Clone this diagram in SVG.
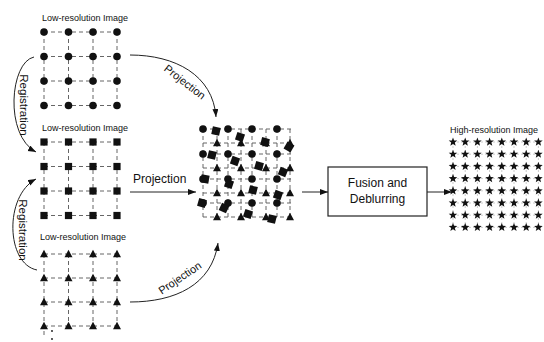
<svg xmlns="http://www.w3.org/2000/svg" xmlns:xlink="http://www.w3.org/1999/xlink" width="544" height="342" viewBox="0 0 544 342">
<style>
text{font-family:"Liberation Sans",Arial,sans-serif;fill:#111}
.lbl{font-size:9px}
.big{font-size:12px}
.dash{stroke:#555;stroke-width:0.9;stroke-dasharray:4 3;fill:none}
.hrg{stroke:#aaa;stroke-width:0.6;stroke-dasharray:2 2;fill:none}
.con{stroke:#222;stroke-width:1;fill:none}
.box{fill:#fff;stroke:#222;stroke-width:1.2}
.k{fill:#111}
</style>
<defs>
<marker id="ah" markerWidth="9" markerHeight="7" refX="8" refY="3" orient="auto" markerUnits="userSpaceOnUse">
<path d="M0,0 L8,3 L0,6 z" fill="#111"/>
</marker>
<circle id="ci" r="3.8" class="k"/>
<rect id="sq" x="-3.6" y="-3.6" width="7.2" height="7.2" class="k"/>
<rect id="bs" x="-4" y="-4" width="8" height="8" class="k"/>
<polygon id="tr" points="0,-4.2 4,3.3 -4,3.3" class="k"/>
<polygon id="st" points="0,-4.5 1.12,-1.54 4.28,-1.39 1.81,0.59 2.65,3.64 0,1.9 -2.65,3.64 -1.81,0.59 -4.28,-1.39 -1.12,-1.54" class="k"/>
</defs>
<rect width="544" height="342" fill="#fff"/>

<g id="lr1">
<text class="lbl" x="42" y="21">Low-resolution Image</text>
<path class="dash" d="M44,32H117M44,56.5H117M44,81H117M44,105.5H117M44,32V105.5M68.5,32V105.5M93,32V105.5M117,32V105.5"/>
<use xlink:href="#ci" x="44" y="32"/><use xlink:href="#ci" x="68.5" y="32"/><use xlink:href="#ci" x="93" y="32"/><use xlink:href="#ci" x="117" y="32"/>
<use xlink:href="#ci" x="44" y="56.5"/><use xlink:href="#ci" x="68.5" y="56.5"/><use xlink:href="#ci" x="93" y="56.5"/><use xlink:href="#ci" x="117" y="56.5"/>
<use xlink:href="#ci" x="44" y="81"/><use xlink:href="#ci" x="68.5" y="81"/><use xlink:href="#ci" x="93" y="81"/><use xlink:href="#ci" x="117" y="81"/>
<use xlink:href="#ci" x="44" y="105.5"/><use xlink:href="#ci" x="68.5" y="105.5"/><use xlink:href="#ci" x="93" y="105.5"/><use xlink:href="#ci" x="117" y="105.5"/>
</g>

<g id="lr2">
<text class="lbl" x="42" y="131">Low-resolution Image</text>
<path class="dash" d="M44,142H117M44,166.5H117M44,191H117M44,215.5H117M44,142V215.5M68.5,142V215.5M93,142V215.5M117,142V215.5"/>
<use xlink:href="#sq" x="44" y="142"/><use xlink:href="#sq" x="68.5" y="142"/><use xlink:href="#sq" x="93" y="142"/><use xlink:href="#sq" x="117" y="142"/>
<use xlink:href="#sq" x="44" y="166.5"/><use xlink:href="#sq" x="68.5" y="166.5"/><use xlink:href="#sq" x="93" y="166.5"/><use xlink:href="#sq" x="117" y="166.5"/>
<use xlink:href="#sq" x="44" y="191"/><use xlink:href="#sq" x="68.5" y="191"/><use xlink:href="#sq" x="93" y="191"/><use xlink:href="#sq" x="117" y="191"/>
<use xlink:href="#sq" x="44" y="215.5"/><use xlink:href="#sq" x="68.5" y="215.5"/><use xlink:href="#sq" x="93" y="215.5"/><use xlink:href="#sq" x="117" y="215.5"/>
</g>

<g id="lr3">
<text class="lbl" x="40" y="240">Low-resolution Image</text>
<path class="dash" d="M44,254H117M44,278H117M44,302H117M44,326H117M44,254V336M68.5,254V326M93,254V326M117,254V326"/>
<use xlink:href="#tr" x="44" y="254"/><use xlink:href="#tr" x="68.5" y="254"/><use xlink:href="#tr" x="93" y="254"/><use xlink:href="#tr" x="117" y="254"/>
<use xlink:href="#tr" x="44" y="278"/><use xlink:href="#tr" x="68.5" y="278"/><use xlink:href="#tr" x="93" y="278"/><use xlink:href="#tr" x="117" y="278"/>
<use xlink:href="#tr" x="44" y="302"/><use xlink:href="#tr" x="68.5" y="302"/><use xlink:href="#tr" x="93" y="302"/><use xlink:href="#tr" x="117" y="302"/>
<use xlink:href="#tr" x="44" y="326"/><use xlink:href="#tr" x="68.5" y="326"/><use xlink:href="#tr" x="93" y="326"/><use xlink:href="#tr" x="117" y="326"/>
<circle cx="52" cy="331" r="0.9" class="k"/><circle cx="52" cy="339" r="0.9" class="k"/>
</g>

<g id="combined">
<path class="dash" d="M203,129H292M203,143H292M203,154H292M203,168H292M203,179H292M203,193H292M203,203H292M203,217H292M203,129V219M217,129V219M228,129V219M241,129V219M252,129V219M266,129V219M277,129V219M290,129V219"/>
<use xlink:href="#ci" x="203" y="129"/><use xlink:href="#ci" x="228" y="129"/><use xlink:href="#ci" x="252" y="129"/><use xlink:href="#ci" x="277" y="129"/>
<use xlink:href="#ci" x="203" y="154"/><use xlink:href="#ci" x="228" y="154"/><use xlink:href="#ci" x="252" y="154"/><use xlink:href="#ci" x="277" y="154"/>
<use xlink:href="#ci" x="203" y="179"/><use xlink:href="#ci" x="228" y="179"/><use xlink:href="#ci" x="252" y="179"/><use xlink:href="#ci" x="277" y="179"/>
<use xlink:href="#ci" x="203" y="203"/><use xlink:href="#ci" x="228" y="203"/><use xlink:href="#ci" x="252" y="203"/><use xlink:href="#ci" x="277" y="203"/>
<use xlink:href="#tr" x="217" y="143"/><use xlink:href="#tr" x="241" y="143"/><use xlink:href="#tr" x="266" y="143"/><use xlink:href="#tr" x="290" y="143"/>
<use xlink:href="#tr" x="217" y="168"/><use xlink:href="#tr" x="241" y="168"/><use xlink:href="#tr" x="266" y="168"/><use xlink:href="#tr" x="290" y="168"/>
<use xlink:href="#tr" x="217" y="193"/><use xlink:href="#tr" x="241" y="193"/><use xlink:href="#tr" x="266" y="193"/><use xlink:href="#tr" x="290" y="193"/>
<use xlink:href="#tr" x="217" y="217"/><use xlink:href="#tr" x="241" y="217"/><use xlink:href="#tr" x="266" y="217"/><use xlink:href="#tr" x="290" y="217"/>
<use xlink:href="#bs" transform="translate(216,131) rotate(12)"/>
<use xlink:href="#bs" transform="translate(240,137) rotate(18)"/>
<use xlink:href="#bs" transform="translate(265,142) rotate(15)"/>
<use xlink:href="#bs" transform="translate(289,147) rotate(30)"/>
<use xlink:href="#bs" transform="translate(212,155) rotate(14)"/>
<use xlink:href="#bs" transform="translate(235,161) rotate(20)"/>
<use xlink:href="#bs" transform="translate(259,166) rotate(16)"/>
<use xlink:href="#bs" transform="translate(283,172) rotate(22)"/>
<use xlink:href="#bs" transform="translate(205,179) rotate(10)"/>
<use xlink:href="#bs" transform="translate(229,184) rotate(18)"/>
<use xlink:href="#bs" transform="translate(253,190) rotate(14)"/>
<use xlink:href="#bs" transform="translate(278,195) rotate(20)"/>
<use xlink:href="#bs" transform="translate(202,203) rotate(16)"/>
<use xlink:href="#bs" transform="translate(224,208) rotate(25)"/>
<use xlink:href="#bs" transform="translate(248,214) rotate(18)"/>
<use xlink:href="#bs" transform="translate(272,219) rotate(14)"/>
</g>

<g id="fusion">
<rect class="box" x="328" y="167" width="99" height="49"/>
<text class="big" x="377.5" y="187" text-anchor="middle">Fusion and</text>
<text class="big" x="377.5" y="203" text-anchor="middle">Deblurring</text>
</g>

<g id="hr">
<text class="lbl" x="450" y="133">High-resolution Image</text>
<path class="hrg" d="M453,142H540M453,154.2H540M453,166.4H540M453,178.6H540M453,190.8H540M453,203H540M453,215.2H540M453,227.4H540M453,142V227.4M465.2,142V227.4M477.4,142V227.4M489.6,142V227.4M501.8,142V227.4M514,142V227.4M526.2,142V227.4M538.4,142V227.4"/>
<g id="hrrow0"><use xlink:href="#st" x="453" y="142"/><use xlink:href="#st" x="465.2" y="142"/><use xlink:href="#st" x="477.4" y="142"/><use xlink:href="#st" x="489.6" y="142"/><use xlink:href="#st" x="501.8" y="142"/><use xlink:href="#st" x="514" y="142"/><use xlink:href="#st" x="526.2" y="142"/><use xlink:href="#st" x="538.4" y="142"/></g>
<use xlink:href="#hrrow0" y="12.2"/>
<use xlink:href="#hrrow0" y="24.4"/>
<use xlink:href="#hrrow0" y="36.6"/>
<use xlink:href="#hrrow0" y="48.8"/>
<use xlink:href="#hrrow0" y="61"/>
<use xlink:href="#hrrow0" y="73.2"/>
<use xlink:href="#hrrow0" y="85.4"/>
</g>

<g id="connectors">
<path class="con" d="M34,57 C10,62 4,135 36,152" marker-end="url(#ah)"/>
<path class="con" d="M37,270 C6,264 4,196 36,179" marker-end="url(#ah)"/>
<path class="con" d="M130,55 C175,55 213,75 216,117" marker-end="url(#ah)"/>
<path class="con" d="M130,192 H196" marker-end="url(#ah)"/>
<path class="con" d="M130,302 C175,302 212,285 218,243" marker-end="url(#ah)"/>
<path class="con" d="M302,192 H328" marker-end="url(#ah)"/>
<path class="con" d="M427,192 H452" marker-end="url(#ah)"/>
</g>

<g id="labels">
<text class="big" transform="translate(20,105) rotate(90)" text-anchor="middle" style="font-size:11.5px">Registration</text>
<text class="big" transform="translate(19,230) rotate(90)" text-anchor="middle" style="font-size:11.5px">Registration</text>
<text style="font-size:11px" transform="translate(182.5,85) rotate(38)" text-anchor="middle">Projection</text>
<text class="big" x="133" y="183">Projection</text>
<text style="font-size:11px" transform="translate(182,281) rotate(-34)" text-anchor="middle">Projection</text>
</g>
</svg>
